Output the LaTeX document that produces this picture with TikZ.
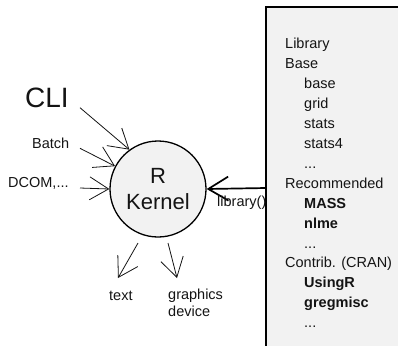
\documentclass[tikz,border=0pt]{standalone}
\usepackage{fontspec}
\setmainfont{Liberation Sans}
\usetikzlibrary{arrows.meta}
\definecolor{panel}{RGB}{242,242,242}
\definecolor{ink}{RGB}{20,20,20}
\begin{document}
\begin{tikzpicture}[x=1pt,y=-1pt,
  lbl/.style={font=\fontsize{14.5}{16.5}\selectfont, text=ink, inner sep=0pt, anchor=base west},
  big/.style={font=\fontsize{22}{26}\selectfont, text=ink, inner sep=0pt, anchor=base},
  huge/.style={font=\fontsize{28}{32}\selectfont, text=ink, inner sep=0pt, anchor=base west},
  pkg/.style={lbl, font=\fontsize{14.5}{16.5}\selectfont\bfseries},
  arr/.style={line width=0.8pt, ink, -{Straight Barb[length=19pt,width=23pt]}},
  libarr/.style={line width=1.7pt, black, -{Straight Barb[length=20pt,width=24pt]}}]
\useasboundingbox (0,0) rectangle (398,346);

% library panel (runs off the right and bottom edges)
\fill[panel] (266,7) rectangle (398,346);
\draw[line width=2pt] (398,7) -- (266,7) -- (266,346);
\coordinate (libedge) at (266,188);

% the R kernel
\node[circle, draw, line width=1.3pt, fill=panel, minimum size=96pt, inner sep=0pt] (kernel) at (158,189) {};
\node[big] (kr) at (158,183) {R};
\node[big] (kk) at (158,209) {Kernel};

% front ends
\node[huge] (cli) at (25,107) {CLI};
\node[lbl] (batch) at (32,148) {Batch};
\node[lbl] (dcom) at (8,187.5) {DCOM,...};
\coordinate (clifrom) at (80,107.7);
\coordinate (batchfrom) at (80,148.3);
\coordinate (dcomfrom) at (80,188);
\draw[arr] (clifrom) -- (kernel.126);
\draw[arr] (batchfrom) -- (kernel.152);
\draw[arr] (dcomfrom) -- (kernel.west);

% outputs
\coordinate (txtfrom) at (138,243);
\coordinate (txtto) at (118,278);
\coordinate (gfxfrom) at (168,243);
\coordinate (gfxto) at (177,278);
\draw[arr] (txtfrom) -- (txtto);
\draw[arr] (gfxfrom) -- (gfxto);
\node[lbl] (txt) at (109,300) {text};
\node[lbl] (gfx1) at (168,299.5) {graphics};
\node[lbl] (gfx2) at (168,316) {device};

% loading packages
\draw[libarr] (libedge) -- (kernel.east);
\node[lbl] (libcall) at (217,206) {library()};

% panel contents
\node[lbl] (l1) at (285,48.5) {Library};
\node[lbl] (l2) at (285,68.4) {Base};
\node[lbl] (l3) at (304,88.4) {base};
\node[lbl] (l4) at (304,108.3) {grid};
\node[lbl] (l5) at (304,128.3) {stats};
\node[lbl] (l6) at (304,148.2) {stats4};
\node[lbl] (l7) at (304,168.2) {...};
\node[lbl] (l8) at (285,188.1) {Recommended};
\node[pkg] (l9) at (304,208.1) {MASS};
\node[pkg] (l10) at (304,228) {nlme};
\node[lbl] (l11) at (304,248) {...};
\node[lbl] (l12) at (285,267.9) {Contrib. (CRAN)};
\node[pkg] (l13) at (304,287.9) {UsingR};
\node[pkg] (l14) at (304,307.8) {gregmisc};
\node[lbl] (l15) at (304,327.8) {...};
\end{tikzpicture}
\end{document}
